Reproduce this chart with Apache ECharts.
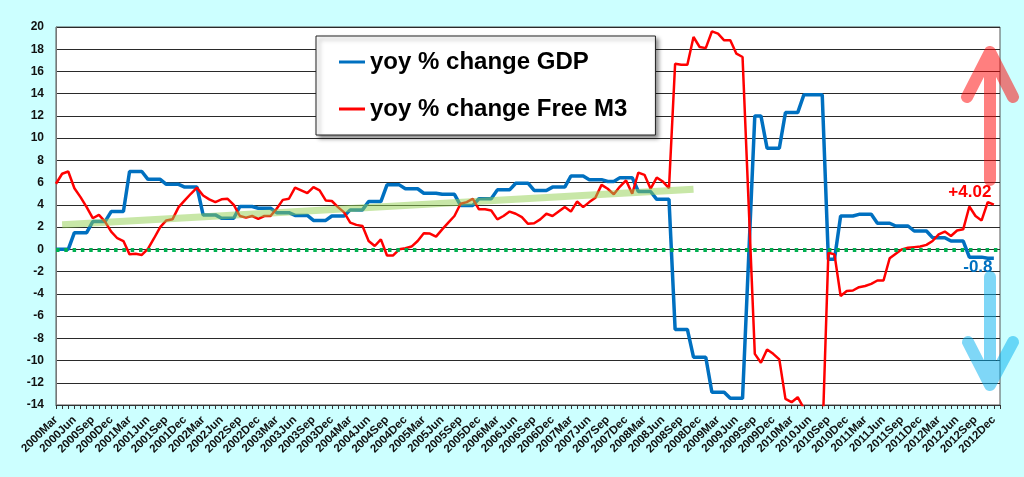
<!DOCTYPE html>
<html>
<head>
<meta charset="utf-8">
<script src="https://cdn.jsdelivr.net/npm/echarts@6/dist/echarts.min.js"></script>
<style>
html,body{margin:0;padding:0;background:#ccffff;}
#chart{width:1024px;height:477px;}
</style>
</head>
<body>
<div id="chart"></div>
<script>
// month names used to build the x categories (2000Mar .. 2012Dec)
var monthNames = ['Jan','Feb','Mar','Apr','May','Jun','Jul','Aug','Sep','Oct','Nov','Dec'];
var categories = [];
for (var y = 2000; y <= 2012; y++) {
	for (var m = 0; m < 12; m++) {
		if (y == 2000 && m < 2) continue;
		categories.push(y + monthNames[m]);
	}
}
categories.push('');

// yoy % change GDP (monthly points, quarterly steps)
var gdp = [
	0,0,0, 1.5,1.5,1.5, 2.5,2.5,2.5, 3.4,3.4,3.4,
	7.0,7.0,7.0, 6.3,6.3,6.3, 5.85,5.85,5.85, 5.6,5.6,5.6,
	3.1,3.1,3.1, 2.8,2.8,2.8, 3.85,3.85,3.85, 3.7,3.7,3.7,
	3.3,3.3,3.3, 3.05,3.05,3.05, 2.6,2.6,2.6, 3.0,3.0,3.0,
	3.55,3.55,3.55, 4.3,4.3,4.3, 5.8,5.8,5.8, 5.45,5.45,5.45,
	5.05,5.05,5.05, 4.95,4.95,4.95, 3.95,3.95,3.95, 4.55,4.55,4.55,
	5.35,5.35,5.35, 5.95,5.95,5.95, 5.3,5.3,5.3, 5.6,5.6,5.6,
	6.6,6.6,6.6, 6.27,6.27,6.27,
	6.1,6.1, 6.45,6.45,6.45, 5.2,5.2,5.2, 4.5,4.5,4.5,
	-7.2,-7.2,-7.2, -9.7,-9.7,-9.7, -12.85,-12.85,-12.85, -13.4,-13.4,-13.4,
	-0.7, 12.0,12.0, 9.1,9.1,9.1, 12.3,12.3,12.3, 13.9,13.9,13.9,13.9,
	-0.9,-0.9, 3.0,3.0,3.0, 3.15,3.15,3.15, 2.35,2.35,2.35, 2.1,2.1,2.1,
	1.65,1.65,1.65, 1.05,1.05,1.05, 0.75,0.75,0.75, -0.7,-0.7,-0.7, -0.8,-0.8
];

// yoy % change Free M3 (monthly)
var m3 = [
	5.9,6.8,7.0,5.5,4.7,3.8,2.8,3.1,2.5,1.6,
	1.0,0.75,-0.45,-0.4,-0.5,0.05,1.0,2.0,2.6,2.7,
	3.8,4.4,5.0,5.55,4.85,4.5,4.25,4.5,4.55,4.0,
	3.0,2.85,3.0,2.75,3.0,3.0,3.65,4.45,4.55,5.55,
	5.3,5.05,5.6,5.3,4.4,4.35,3.8,3.33,2.4,2.2,
	2.1,0.75,0.3,0.9,-0.55,-0.55,0,0.1,0.25,0.75,
	1.45,1.42,1.15,1.8,2.4,3.0,4.1,4.25,4.55,3.6,
	3.6,3.5,2.7,3.0,3.4,3.2,2.9,2.3,2.35,2.7,
	3.2,3.0,3.4,3.8,3.4,4.3,3.8,4.25,4.65,5.8,
	5.45,4.95,5.65,6.2,5.0,6.9,6.7,5.45,6.45,6.1,
	5.5,16.7,16.6,16.6,19.1,18.2,18.1,19.6,19.4,18.8,
	18.8,17.6,17.3,4.0,-9.4,-10.2,-9.0,-9.4,-9.9,-13.45,
	-13.75,-13.3,-14.3,-15.5,-16.5,-17.5,-0.3,-0.45,-4.2,-3.75,
	-3.7,-3.4,-3.3,-3.1,-2.8,-2.8,-0.8,-0.4,0,0.15,
	0.2,0.25,0.4,0.75,1.35,1.6,1.2,1.7,1.8,3.85,
	3.0,2.6,4.25,4.02
];

// light green trend line: [category index, value]
var trendLine = [[1, 2.22], [104, 5.4]];

var fontFamily = 'Arial, "Liberation Sans", sans-serif';
var lastIdx = gdp.length - 1;

var chart = echarts.init(document.getElementById('chart'));
var option = {
	backgroundColor: '#ccffff',
	animation: false,
	textStyle: { fontFamily: fontFamily },
	grid: {
		left: 56,
		right: 24,
		top: 27,
		bottom: 72,
		show: true,
		backgroundColor: '#ffffff',
		borderColor: '#555',
		borderWidth: 1
	},
	legend: {
		data: ['yoy % change GDP', 'yoy % change Free M3'],
		orient: 'vertical',
		left: 316,
		top: 36,
		padding: [14, 28, 14, 23],
		itemGap: 23,
		itemWidth: 26,
		itemHeight: 3,
		icon: 'rect',
		backgroundColor: '#fff',
		borderColor: '#222',
		borderWidth: 1,
		shadowColor: 'rgba(0,0,0,0.45)',
		shadowBlur: 4,
		shadowOffsetX: 3,
		shadowOffsetY: 3,
		textStyle: {
			fontSize: 24,
			fontWeight: 'bold',
			color: '#000',
			fontFamily: fontFamily
		}
	},
	xAxis: {
		type: 'category',
		data: categories,
		boundaryGap: false,
		axisLine: { onZero: false, lineStyle: { color: '#333', width: 1 } },
		axisTick: { show: true, interval: 0, length: 4, lineStyle: { color: '#333' } },
		axisLabel: {
			interval: function (index) { return index % 3 === 0 && index <= lastIdx; },
			rotate: 45,
			margin: 13,
			fontSize: 11.5,
			fontWeight: 'bold',
			color: '#111',
			fontFamily: fontFamily
		},
		splitLine: { show: false }
	},
	yAxis: {
		type: 'value',
		min: -14,
		max: 20,
		interval: 2,
		axisLine: { show: true, lineStyle: { color: '#777' } },
		axisTick: { show: false },
		axisLabel: {
			margin: 12,
			fontSize: 12,
			fontWeight: 'bold',
			color: '#111',
			fontFamily: fontFamily
		},
		splitLine: { show: true, lineStyle: { color: '#2a2a2a', width: 1 } }
	},
	series: [{
		name: 'yoy % change GDP',
		type: 'line',
		data: gdp,
		showSymbol: false,
		symbol: 'none',
		color: '#0070c0',
		lineStyle: { width: 3.5, color: '#0070c0' },
		z: 3,
		markPoint: {
			symbol: 'circle',
			symbolSize: 1,
			itemStyle: { color: 'rgba(0,0,0,0)' },
			label: {
				show: true,
				position: 'inside',
				offset: [-16, 9],
				formatter: '-0.8',
				fontSize: 17,
				fontWeight: 'bold',
				color: '#0070c0',
				fontFamily: fontFamily
			},
			data: [{ coord: [lastIdx, gdp[lastIdx]] }]
		}
	}, {
		name: 'yoy % change Free M3',
		type: 'line',
		data: m3,
		showSymbol: false,
		symbol: 'none',
		color: '#ff0000',
		lineStyle: { width: 2.5, color: '#ff0000' },
		z: 4,
		markPoint: {
			symbol: 'circle',
			symbolSize: 1,
			itemStyle: { color: 'rgba(0,0,0,0)' },
			label: {
				show: true,
				position: 'inside',
				offset: [-24, -12],
				formatter: '+4.02',
				fontSize: 17,
				fontWeight: 'bold',
				color: '#ff0000',
				fontFamily: fontFamily
			},
			data: [{ coord: [lastIdx, m3[lastIdx]] }]
		}
	}, {
		name: 'trend',
		type: 'line',
		data: trendLine,
		showSymbol: false,
		symbol: 'none',
		silent: true,
		lineStyle: { width: 7, color: 'rgba(146,208,80,0.5)' },
		z: 5,
		// green dotted zero line
		markLine: {
			silent: true,
			symbol: 'none',
			label: { show: false },
			lineStyle: { color: '#00b050', width: 4, type: [3.5, 4.8], cap: 'butt', opacity: 1 },
			data: [{ yAxis: 0 }]
		}
	}],
	graphic: [{
		// red up arrow
		type: 'polyline',
		z: 100,
		shape: { points: [[990, 180], [990, 52], [967, 97], [990, 52], [1013, 97]] },
		style: { stroke: 'rgba(255,0,0,0.5)', lineWidth: 12, lineCap: 'round', lineJoin: 'round', fill: null }
	}, {
		// blue down arrow
		type: 'polyline',
		z: 100,
		shape: { points: [[990, 277], [990, 385], [968, 342], [990, 385], [1013, 342]] },
		style: { stroke: 'rgba(0,176,240,0.5)', lineWidth: 12, lineCap: 'round', lineJoin: 'round', fill: null }
	}]
};
chart.setOption(option);
</script>
</body>
</html>
